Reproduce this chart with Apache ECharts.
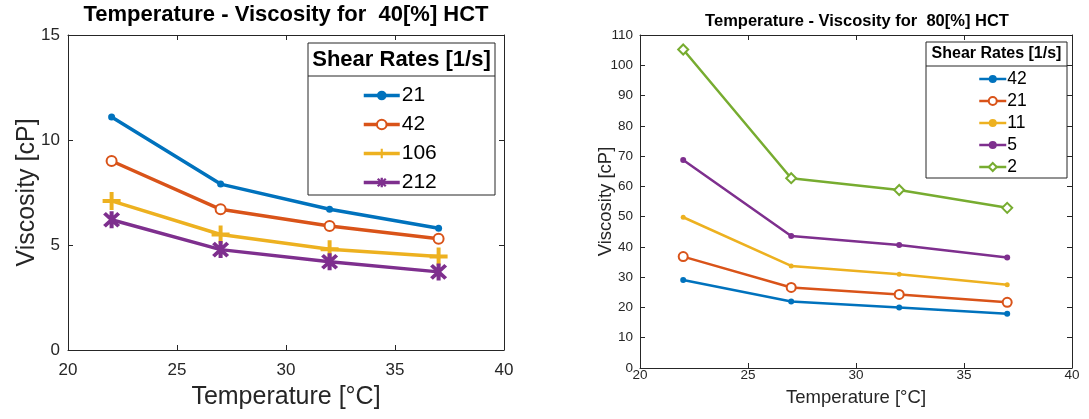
<!DOCTYPE html>
<html>
<head>
<meta charset="utf-8">
<script src="https://cdn.jsdelivr.net/npm/echarts@6/dist/echarts.min.js"></script>
<style>
body{margin:0;background:#fff;}
#left{position:absolute;left:0;top:0;width:545px;height:419px;}
#right{position:absolute;left:545px;top:0;width:544px;height:419px;}
</style>
</head>
<body>
<div id="left"></div>
<div id="right"></div>
<script>
var temps = [22, 27, 32, 37];

// 40 [%] HCT
var rates40 = ['21', '42', '106', '212'];
var visc40_21 = [11.1, 7.9, 6.7, 5.8];
var visc40_42 = [9.0, 6.7, 5.9, 5.3];
var visc40_106 = [7.1, 5.5, 4.8, 4.45];
var visc40_212 = [6.2, 4.78, 4.2, 3.72];

// 80 [%] HCT
var rates80 = ['42', '21', '11', '5', '2'];
var visc80_42 = [29.1, 22.0, 20.0, 17.9];
var visc80_21 = [36.8, 26.6, 24.3, 21.7];
var visc80_11 = [49.8, 33.7, 31.0, 27.5];
var visc80_5 = [68.7, 43.6, 40.6, 36.5];
var visc80_2 = [105.2, 62.7, 58.8, 52.9];

var FONT = '"Liberation Sans", Arial, sans-serif';
var AXIS_COLOR = '#262626';
var BLUE = '#0072BD', ORANGE = '#D95319', YELLOW = '#EDB120', PURPLE = '#7E2F8E', GREEN = '#77AC30';
var PLUS = 'path://M3.9,0h2.2v10h-2.2zM0,3.9h10v2.2h-10z';
var STAR = 'path://M3.9,0h2.2v10h-2.2zM0.4,1.9L1.9,0.4L9.6,8.1L8.1,9.6zM8.1,0.4L9.6,1.9L1.9,9.6L0.4,8.1z';

function zip(xs, ys) {
    var out = [];
    for (var i = 0; i < xs.length; i++) {
        out.push([xs[i], ys[i]]);
    }
    return out;
}

function line(name, vals, color, symbol, size, width) {
    return {
        name: name,
        type: 'line',
        data: zip(temps, vals),
        symbol: symbol,
        symbolSize: size,
        showSymbol: true,
        lineStyle: { color: color, width: width },
        itemStyle: { color: color, borderColor: color, borderWidth: symbol.indexOf('empty') == 0 ? 2 : 0 },
        emphasis: { disabled: true },
        animation: false
    };
}

function axisPair(pos, o, shown) {
    var a = {
        type: 'value',
        position: pos,
        min: o.min,
        max: o.max,
        interval: o.interval,
        axisLine: { show: true, onZero: false, lineStyle: { color: AXIS_COLOR, width: 1 } },
        axisTick: { show: true, inside: true, length: 5, lineStyle: { color: AXIS_COLOR } },
        splitLine: { show: false },
        axisLabel: { show: shown, fontSize: o.labelSize, color: AXIS_COLOR, fontFamily: FONT, margin: o.margin }
    };
    if (shown) {
        a.name = o.name;
        a.nameLocation = 'middle';
        a.nameGap = o.nameGap;
        a.nameMoveOverlap = false;
        a.nameTextStyle = { fontSize: o.nameSize, color: AXIS_COLOR, fontFamily: FONT };
    }
    return a;
}

function legendBox(x, y, w, h, sepY, header, headerSize, headerY) {
    return [
        { type: 'rect', z: 3, shape: { x: x, y: y, width: w, height: h }, style: { fill: '#fff', stroke: AXIS_COLOR, lineWidth: 1 } },
        { type: 'line', z: 3, shape: { x1: x, y1: sepY, x2: x + w, y2: sepY }, style: { stroke: AXIS_COLOR, lineWidth: 1 } },
        { type: 'text', z: 4, x: x + w / 2, y: headerY, style: { text: header, fontSize: headerSize, fontWeight: 'bold', fontFamily: FONT, fill: '#000', align: 'center', verticalAlign: 'middle' } }
    ];
}

function drawLeft() {
    var chart = echarts.init(document.getElementById('left'));
    var xo = { min: 20, max: 40, interval: 5, labelSize: 17, margin: 12, name: 'Temperature [°C]', nameGap: 35, nameSize: 25 };
    var yo = { min: 0, max: 15, interval: 5, labelSize: 17, margin: 8, name: 'Viscosity [cP]', nameGap: 28, nameSize: 25 };
    var option = {
        title: {
            text: 'Temperature - Viscosity for  40[%] HCT',
            left: 286, top: 4, padding: 0, textAlign: 'center',
            textStyle: { fontSize: 22, fontWeight: 'bold', color: '#000', fontFamily: FONT }
        },
        grid: { left: 68, top: 35, width: 436, height: 315 },
        xAxis: [axisPair('bottom', xo, true), axisPair('top', xo, false)],
        yAxis: [axisPair('left', yo, true), axisPair('right', yo, false)],
        legend: {
            orient: 'vertical', left: 362, top: 85, padding: 0, itemWidth: 36, itemHeight: 12, itemGap: 8,
            selectedMode: false, data: rates40,
            lineStyle: { width: 3.5 },
            textStyle: { fontSize: 21, color: '#000', fontFamily: FONT, padding: [0, 0, 0, -3] }
        },
        graphic: legendBox(308, 43, 187, 152, 76, 'Shear Rates [1/s]', 22, 60),
        series: [
            line('21', visc40_21, BLUE, 'circle', 7, 3.5),
            line('42', visc40_42, ORANGE, 'emptyCircle', 10, 3.5),
            line('106', visc40_106, YELLOW, PLUS, 18, 3.5),
            line('212', visc40_212, PURPLE, STAR, 17, 3.5)
        ]
    };
    chart.setOption(option, true);
}

function drawRight() {
    var chart = echarts.init(document.getElementById('right'));
    var xo = { min: 20, max: 40, interval: 5, labelSize: 13.5, margin: 0, name: 'Temperature [°C]', nameGap: 20, nameSize: 18.5 };
    var yo = { min: 0, max: 110, interval: 10, labelSize: 13.5, margin: 7, name: 'Viscosity [cP]', nameGap: 25, nameSize: 18.5 };
    var option = {
        title: {
            text: 'Temperature - Viscosity for  80[%] HCT',
            left: 312, top: 13, padding: 0, textAlign: 'center',
            textStyle: { fontSize: 16.5, fontWeight: 'bold', color: '#000', fontFamily: FONT }
        },
        grid: { left: 95, top: 35, width: 432, height: 333 },
        xAxis: [axisPair('bottom', xo, true), axisPair('top', xo, false)],
        yAxis: [axisPair('left', yo, true), axisPair('right', yo, false)],
        legend: {
            orient: 'vertical', left: 433, top: 70, padding: 0, itemWidth: 27, itemHeight: 10, itemGap: 4,
            selectedMode: false, data: rates80,
            lineStyle: { width: 2.5 },
            textStyle: { fontSize: 17.5, color: '#000', fontFamily: FONT, padding: [0, 0, 0, -4] }
        },
        graphic: legendBox(381, 42, 141, 136, 66, 'Shear Rates [1/s]', 16, 54),
        series: [
            line('42', visc80_42, BLUE, 'circle', 6, 2.5),
            line('21', visc80_21, ORANGE, 'emptyCircle', 9, 2.5),
            line('11', visc80_11, YELLOW, 'circle', 5, 2.5),
            line('5', visc80_5, PURPLE, 'circle', 6, 2.5),
            line('2', visc80_2, GREEN, 'emptyDiamond', 10, 2.5)
        ]
    };
    chart.setOption(option, true);
}

drawLeft();
drawRight();
</script>
</body>
</html>
